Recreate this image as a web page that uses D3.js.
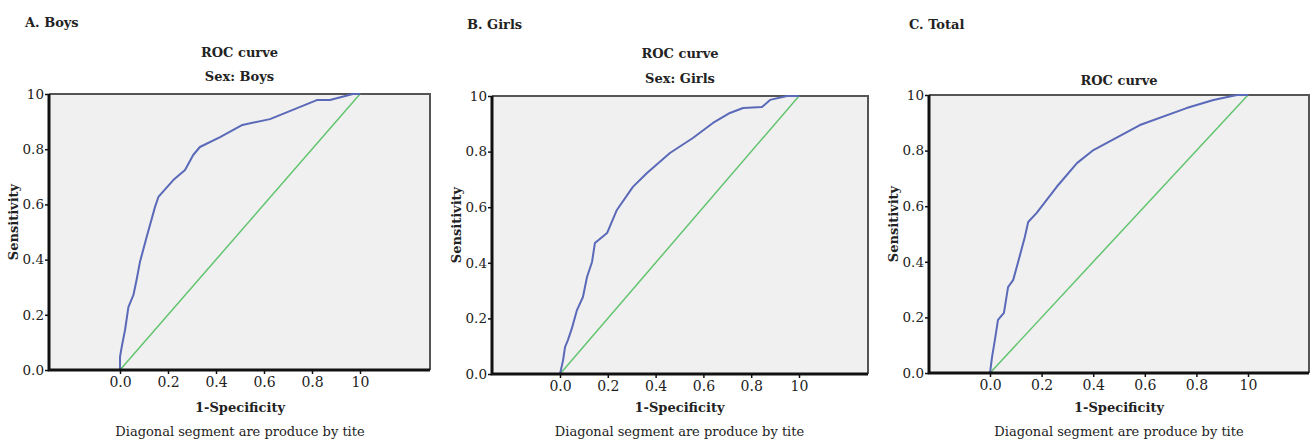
<!DOCTYPE html>
<html>
<head>
<meta charset="utf-8">
<script src="https://cdn.jsdelivr.net/npm/d3@7"></script>
<style>
  body { margin: 0; background: #fff; }
  text { font-family: "DejaVu Serif", serif; fill: #222; }
</style>
</head>
<body>
<svg id="chart" width="1312" height="439"></svg>
<script>
// ROC points (1-specificity, sensitivity)
const boysFpr = [0, 0, 0.007, 0.021, 0.035, 0.056, 0.069, 0.083, 0.111, 0.146, 0.160, 0.222, 0.271, 0.305, 0.333, 0.417, 0.51, 0.625, 0.82, 0.875, 0.97, 1.0];
const boysTpr = [0, 0.047, 0.083, 0.145, 0.228, 0.272, 0.326, 0.391, 0.482, 0.591, 0.627, 0.688, 0.725, 0.779, 0.808, 0.844, 0.888, 0.909, 0.978, 0.978, 1.0, 1.0];

const girlsFpr = [0, 0.013, 0.021, 0.033, 0.050, 0.071, 0.096, 0.113, 0.134, 0.146, 0.197, 0.238, 0.305, 0.364, 0.460, 0.556, 0.640, 0.711, 0.766, 0.845, 0.879, 0.95, 1.0];
const girlsTpr = [0, 0.050, 0.097, 0.122, 0.165, 0.230, 0.277, 0.349, 0.403, 0.471, 0.507, 0.590, 0.673, 0.723, 0.795, 0.849, 0.903, 0.939, 0.957, 0.960, 0.986, 1.0, 1.0];

const totalFpr = [0, 0.008, 0.019, 0.031, 0.054, 0.070, 0.090, 0.109, 0.135, 0.148, 0.181, 0.258, 0.337, 0.401, 0.581, 0.762, 0.866, 0.957, 1.0];
const totalTpr = [0, 0.058, 0.119, 0.191, 0.216, 0.309, 0.335, 0.399, 0.489, 0.543, 0.576, 0.669, 0.755, 0.802, 0.892, 0.953, 0.982, 1.0, 1.0];

const tickValues = [0, 0.2, 0.4, 0.6, 0.8, 1.0];
const tickLabels = ["0.0", "0.2", "0.4", "0.6", "0.8", "10"];

const panelLabels = ["A. Boys", "B. Girls", "C. Total"];
const subTitles = ["Sex: Boys", "Sex: Girls", null];
const footNote = "Diagonal segment are produce by tite";

// frame geometry of each panel
const panels = [
    { fpr: boysFpr, tpr: boysTpr, left: 49, right: 430, top: 94, bottom: 370, x0: 120, x1: 360,
      labelX: 25, labelY: 27, titleY: 57, subY: 81 },
    { fpr: girlsFpr, tpr: girlsTpr, left: 492, right: 868, top: 96, bottom: 374, x0: 560, x1: 799,
      labelX: 467, labelY: 29, titleY: 58, subY: 83 },
    { fpr: totalFpr, tpr: totalTpr, left: 929, right: 1309, top: 95, bottom: 373, x0: 990, x1: 1248,
      labelX: 909, labelY: 29, titleY: 85, subY: null }
];

const svg = d3.select('#chart');

panels.forEach((p, k) => {
    const g = svg.append('g');

    const x = d3.scaleLinear().domain([0, 1]).range([p.x0, p.x1]);
    const y = d3.scaleLinear().domain([0, 1]).range([p.bottom, p.top]);
    const cx = (p.left + p.right) / 2;

    // plot area
    g.append('rect')
        .attr('x', p.left).attr('y', p.top)
        .attr('width', p.right - p.left).attr('height', p.bottom - p.top)
        .attr('fill', '#f0f0f0');

    // top + right border
    g.append('path')
        .attr('d', `M${p.left},${p.top}H${p.right}V${p.bottom}`)
        .attr('fill', 'none')
        .attr('stroke', '#555')
        .attr('stroke-width', 2);

    // diagonal reference
    g.append('line')
        .attr('x1', x(0)).attr('y1', y(0))
        .attr('x2', x(1)).attr('y2', y(1))
        .attr('stroke', '#62c46f')
        .attr('stroke-width', 1.5);

    const pts = p.fpr.map((v, i) => [v, p.tpr[i]]);
    g.append('path')
        .datum(pts)
        .attr('d', d3.line().x(d => x(d[0])).y(d => y(d[1])))
        .attr('fill', 'none')
        .attr('stroke', '#5a69b8')
        .attr('stroke-width', 2)
        .attr('stroke-linejoin', 'round');

    // axes
    const yAxis = d3.axisLeft(y)
        .tickValues(tickValues)
        .tickFormat((d, i) => tickLabels[i])
        .tickSize(4)
        .tickPadding(1);
    const ya = g.append('g')
        .attr('transform', `translate(${p.left},0)`)
        .call(yAxis);

    const xAxis = d3.axisBottom(x)
        .tickValues(tickValues)
        .tickFormat((d, i) => tickLabels[i])
        .tickSize(4)
        .tickPadding(3);
    const xa = g.append('g')
        .attr('transform', `translate(0,${p.bottom})`)
        .call(xAxis);

    [ya, xa].forEach((a, j) => {
        a.select('.domain').remove();
        a.selectAll('.tick line').attr('stroke', '#111').attr('stroke-width', 1.5);
        a.selectAll('.tick text')
            .attr('font-size', j === 0 ? 13.5 : 14)
            .attr('fill', '#1a1a1a')
            .style('font-family', '"DejaVu Serif", serif');
    });

    // thick left + bottom axis lines
    g.append('path')
        .attr('d', `M${p.left},${p.top}V${p.bottom}H${p.right}`)
        .attr('fill', 'none')
        .attr('stroke', '#111')
        .attr('stroke-width', 3);

    g.append('text')
        .attr('x', p.labelX).attr('y', p.labelY)
        .attr('font-size', 13).attr('font-weight', 'bold')
        .text(panelLabels[k]);

    g.append('text')
        .attr('x', cx).attr('y', p.titleY)
        .attr('text-anchor', 'middle')
        .attr('font-size', 13).attr('font-weight', 'bold')
        .text('ROC curve');

    if (subTitles[k]) {
        g.append('text')
            .attr('x', cx).attr('y', p.subY)
            .attr('text-anchor', 'middle')
            .attr('font-size', 13).attr('font-weight', 'bold')
            .text(subTitles[k]);
    }

    const mid = (p.x0 + p.x1) / 2;
    g.append('text')
        .attr('x', mid).attr('y', 412)
        .attr('text-anchor', 'middle')
        .attr('font-size', 13).attr('font-weight', 'bold')
        .text('1-Specificity');

    g.append('text')
        .attr('x', mid).attr('y', 436)
        .attr('text-anchor', 'middle')
        .attr('font-size', 13)
        .text(footNote);

    g.append('text')
        .attr('transform', `translate(${p.left - 31},${(p.top + p.bottom) / 2 - 10}) rotate(-90)`)
        .attr('text-anchor', 'middle')
        .attr('font-size', 13).attr('font-weight', 'bold')
        .text('Sensitivity');
});
</script>
</body>
</html>
